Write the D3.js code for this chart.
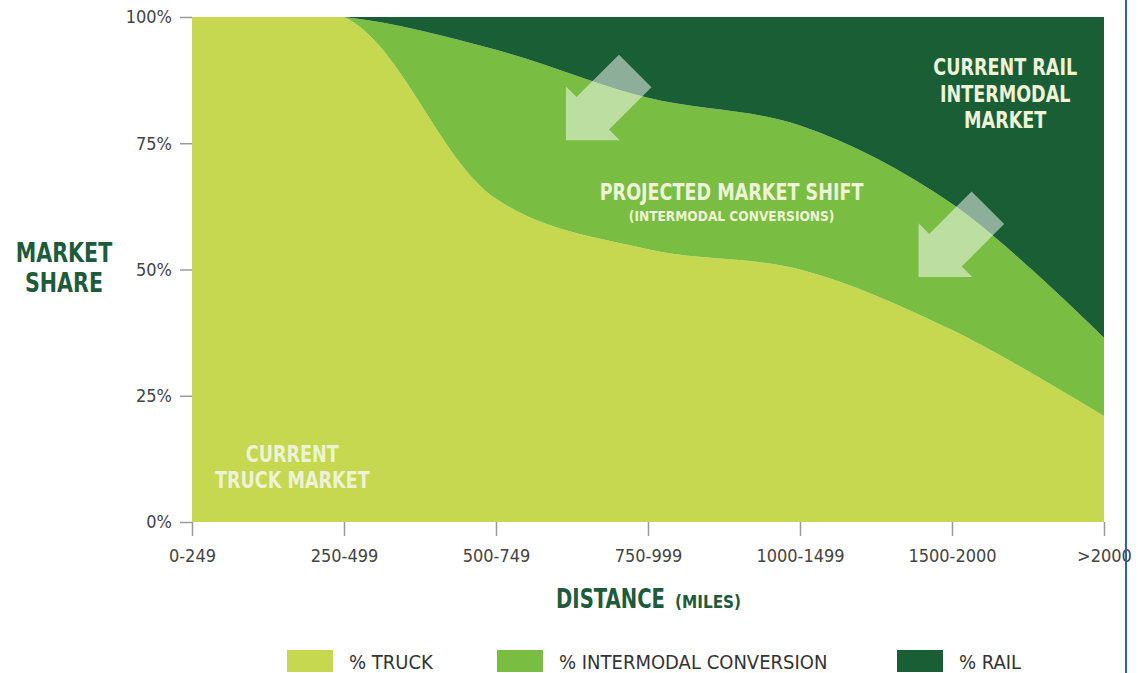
<!DOCTYPE html>
<html>
<head>
<meta charset="utf-8">
<script src="https://cdn.jsdelivr.net/npm/d3@7"></script>
<style>
  body { margin: 0; background: #fff; }
  svg { display: block; }
  text { font-family: "Liberation Sans Narrow", "DejaVu Sans Condensed", "Roboto", sans-serif; }
</style>
</head>
<body>
<div id="chart"></div>
<script>
// distance bands and market share (%)
const categories = ["0-249", "250-499", "500-749", "750-999", "1000-1499", "1500-2000", ">2000"];
const truck      = [100, 100, 64, 54, 50, 38, 21];
const intermodal = [0,   0,   29.5, 30, 28.5, 25, 15.5];
const rail       = [0,   0,   6.5, 16, 21.5, 37, 63.5];
const yTicks = [0, 25, 50, 75, 100];
const legendLabels = ["% TRUCK", "% INTERMODAL CONVERSION", "% RAIL"];

const keys = ["truck", "intermodal", "rail"];
const colors = { truck: "#c5d850", intermodal: "#79be42", rail: "#1a5e35" };

const width = 1138, height = 673;
const plotL = 192, plotR = 1104, plotT = 17, plotB = 522;

const rows = categories.map((c, i) => ({ cat: c, truck: truck[i], intermodal: intermodal[i], rail: rail[i] }));

const svg = d3.select("#chart").append("svg")
  .attr("width", width)
  .attr("height", height);

const x = d3.scalePoint().domain(categories).range([plotL, plotR]);
const xi = d3.scaleLinear().domain([0, categories.length - 1]).range([plotL, plotR]); // for annotations
const y = d3.scaleLinear().domain([0, 100]).range([plotB, plotT]);

svg.append("clipPath").attr("id", "plot")
  .append("rect")
  .attr("x", plotL).attr("y", plotT)
  .attr("width", plotR - plotL).attr("height", plotB - plotT);

const series = d3.stack().keys(keys)(rows);

const area = d3.area()
  .x(d => x(d.data.cat))
  .y0(d => y(d[0]))
  .y1(d => y(d[1]))
  .curve(d3.curveCatmullRom);

const g = svg.append("g").attr("clip-path", "url(#plot)");
g.selectAll("path.layer")
  .data(series)
  .enter()
  .append("path")
  .attr("class", "layer")
  .attr("fill", d => colors[d.key])
  .attr("d", area);

// arrows (semi transparent, pointing down-left)
const arrowPath = "M0,0 L-38,-38 L-38,-23 L-98,-23 L-98,23 L-38,23 L-38,38 Z";
const arrows = [{ i: 2.46, v: 75.6 }, { i: 4.78, v: 48.5 }];
g.selectAll("path.arrow")
  .data(arrows)
  .enter()
  .append("path")
  .attr("class", "arrow")
  .attr("d", arrowPath)
  .attr("fill", "#ffffff")
  .attr("fill-opacity", 0.5)
  .attr("transform", d => `translate(${xi(d.i)},${y(d.v)}) rotate(135)`);

// condensed looking text: squeeze horizontally around its anchor
function label(px, py, str, size, opts) {
  opts = opts || {};
  const sx = opts.sx || 0.85;
  const t = svg.append("g")
    .attr("transform", `translate(${px},${py}) scale(${sx},1)`)
    .append("text")
    .attr("text-anchor", opts.anchor || "middle")
    .attr("font-weight", opts.weight || "bold")
    .attr("font-size", size)
    .attr("fill", opts.fill)
    .text(str);
  return t;
}

// annotations
const noteColor = "#eef2d6";
label(xi(3.55), y(63.8), "PROJECTED MARKET SHIFT", 23, { fill: noteColor });
label(xi(3.55), y(59.6), "(INTERMODAL CONVERSIONS)", 14, { fill: noteColor, sx: 0.97 });
["CURRENT RAIL", "INTERMODAL", "MARKET"].forEach((l, k) =>
  label(xi(5.35), y(88.5) + k * 26.5, l, 23, { fill: noteColor }));
["CURRENT", "TRUCK MARKET"].forEach((l, k) =>
  label(xi(0.66), y(11.9) + k * 26, l, 23, { fill: noteColor }));

// axes
const yAxis = svg.append("g")
  .attr("transform", `translate(${plotL},0)`)
  .call(d3.axisLeft(y).tickValues(yTicks).tickSize(12).tickPadding(8).tickFormat(d => d + "%"));
const xAxis = svg.append("g")
  .attr("transform", `translate(0,${plotB})`)
  .call(d3.axisBottom(x).tickSize(14).tickPadding(13));

[yAxis, xAxis].forEach(a => {
  a.select(".domain").remove();
  a.selectAll(".tick line").attr("stroke", "#9a9a9a").attr("stroke-width", 1.5);
  a.selectAll(".tick text")
    .attr("fill", "#444")
    .attr("font-size", 18)
    .style("font-family", "\"Liberation Sans Narrow\", \"DejaVu Sans Condensed\", sans-serif");
});

// axis titles
const titleColor = "#1d5b3c";
label(64, 262, "MARKET", 27, { fill: titleColor });
label(64, 292, "SHARE", 27, { fill: titleColor });
label(665, 608, "DISTANCE", 26, { fill: titleColor, anchor: "end", sx: 0.84 });
label(675, 608, "(MILES)", 17, { fill: titleColor, anchor: "start", sx: 1 });

// legend
const legendX = [287, 497, 897];
const leg = svg.selectAll("g.legend")
  .data(keys)
  .enter()
  .append("g")
  .attr("class", "legend")
  .attr("transform", (d, k) => `translate(${legendX[k]},650)`);
leg.append("rect")
  .attr("width", 46)
  .attr("height", 22)
  .attr("fill", d => colors[d]);
leg.append("text")
  .attr("x", 62)
  .attr("y", 19)
  .attr("font-size", 20)
  .attr("fill", "#333")
  .text((d, k) => legendLabels[k]);

// thin blue frame line at the right
svg.append("line")
  .attr("x1", 1126).attr("x2", 1126)
  .attr("y1", 0).attr("y2", height)
  .attr("stroke", "#2f5fae")
  .attr("stroke-width", 2);
</script>
</body>
</html>
